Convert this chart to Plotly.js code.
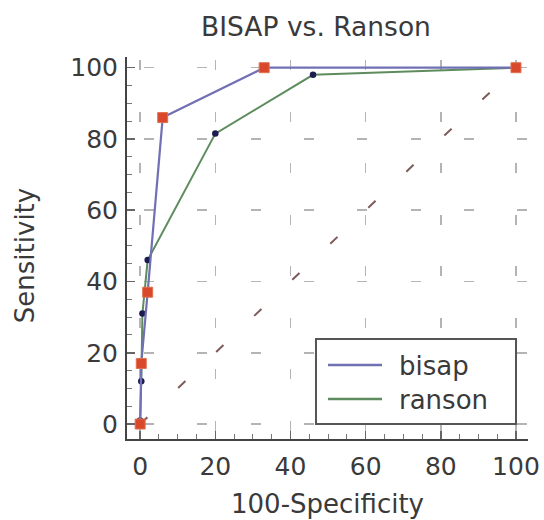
<!DOCTYPE html>
<html><head><meta charset="utf-8">
<script src="https://cdn.plot.ly/plotly-3.0.1.min.js"></script>
<style>body{margin:0;background:#fff}#c{width:544px;height:520px}</style>
</head><body><div id="c"></div>
<script>
const bisapX = [0, 0.3, 2, 6, 33, 100];
const bisapY = [0, 17, 37, 86, 100, 100];
const ransonX = [0, 0, 0.3, 0.6, 2, 20, 46, 100];
const ransonY = [0, 1, 12, 31, 46, 81.5, 98, 100];
const refX = [0, 100];
const refY = [0, 100];
const tickVals = [0, 20, 40, 60, 80, 100];
const tickText = ['0', '20', '40', '60', '80', '100'];
const seriesNames = ['bisap', 'ranson'];

const FONT = 'DejaVu Sans, Arial, sans-serif';
const TXT = '#3a3a3a';
const BLUE = '#7070b4', GREEN = '#5e8c5e';
const traces = [
  {x: refX, y: refY, mode: 'lines', hoverinfo: 'skip',
   line: {color: '#7e5c5c', width: 2, dash: '10px,42.4px'}},
  {x: ransonX, y: ransonY, name: seriesNames[1], mode: 'lines+markers',
   line: {color: GREEN, width: 2},
   marker: {color: '#1c1c50', size: 6.5, symbol: 'circle'}},
  {x: bisapX, y: bisapY, name: seriesNames[0], mode: 'lines+markers',
   line: {color: BLUE, width: 2.2},
   marker: {color: '#d9482a', size: 10, symbol: 'square', line: {color: '#e07050', width: 1}}}
];
const axisCommon = {
  tickmode: 'array', tickvals: tickVals, ticktext: tickText,
  showline: true, linecolor: '#444', linewidth: 2,
  ticks: 'inside', ticklen: 8, tickcolor: '#666', tickwidth: 1.5,
  minor: {tickmode: 'linear', tick0: 0, dtick: 5, ticks: 'inside', ticklen: 5, tickcolor: '#777', tickwidth: 1, showgrid: false},
  showgrid: true, gridcolor: '#b4b4b4', gridwidth: 1.5,
  zeroline: false, tickfont: {family: FONT, size: 25, color: TXT}
};
// legend drawn in plot-area fractions
const L = {x0: 0.4713, x1: 0.9701, y0: 0.0393, y1: 0.2618, lx0: 0.5012, lx1: 0.6359, tx: 0.6733, rows: [0.1937, 0.1047]};
const legendColors = [BLUE, GREEN];
const shapes = [
  {type: 'rect', xref: 'paper', yref: 'paper', x0: L.x0, x1: L.x1, y0: L.y0, y1: L.y1,
   fillcolor: '#fff', line: {color: '#555', width: 2}, layer: 'above'}
];
const annotations = [
  {text: '100-Specificity', xref: 'paper', yref: 'paper', x: 0.5, y: -0.17,
   xanchor: 'center', yanchor: 'middle', showarrow: false, font: {family: FONT, size: 26, color: TXT}},
  {text: 'Sensitivity', xref: 'paper', yref: 'paper', x: -0.254, y: 0.479, textangle: -90,
   xanchor: 'center', yanchor: 'middle', showarrow: false, font: {family: FONT, size: 26, color: TXT}}
];
seriesNames.forEach((n, i) => {
  shapes.push({type: 'line', xref: 'paper', yref: 'paper', x0: L.lx0, x1: L.lx1, y0: L.rows[i], y1: L.rows[i],
               line: {color: legendColors[i], width: 2.5}, layer: 'above'});
  annotations.push({text: n, xref: 'paper', yref: 'paper', x: L.tx, y: L.rows[i] - 0.002,
                    xanchor: 'left', yanchor: 'middle', showarrow: false,
                    font: {family: FONT, size: 26, color: TXT}});
});
const layout = {
  width: 544, height: 520, paper_bgcolor: '#fff', plot_bgcolor: '#fff',
  margin: {l: 127, r: 16, t: 57, b: 81},
  showlegend: false,
  title: {text: 'BISAP vs. Ranson', x: 316/544, xref: 'container', xanchor: 'center',
          y: 1 - 27/520, yref: 'container', yanchor: 'middle',
          font: {family: FONT, size: 26.5, color: TXT}},
  xaxis: Object.assign({}, axisCommon, {range: [-3.5, 103.2], ticklabelstandoff: 4, griddash: '0px,3px,10px,38.5px'}),
  yaxis: Object.assign({}, axisCommon, {range: [-4.2, 103], ticklabelstandoff: 2, griddash: '0px,17px,10px,26.3px'}),
  shapes: shapes,
  annotations: annotations
};
Plotly.newPlot('c', traces, layout, {displayModeBar: false, staticPlot: true});
</script></body></html>
